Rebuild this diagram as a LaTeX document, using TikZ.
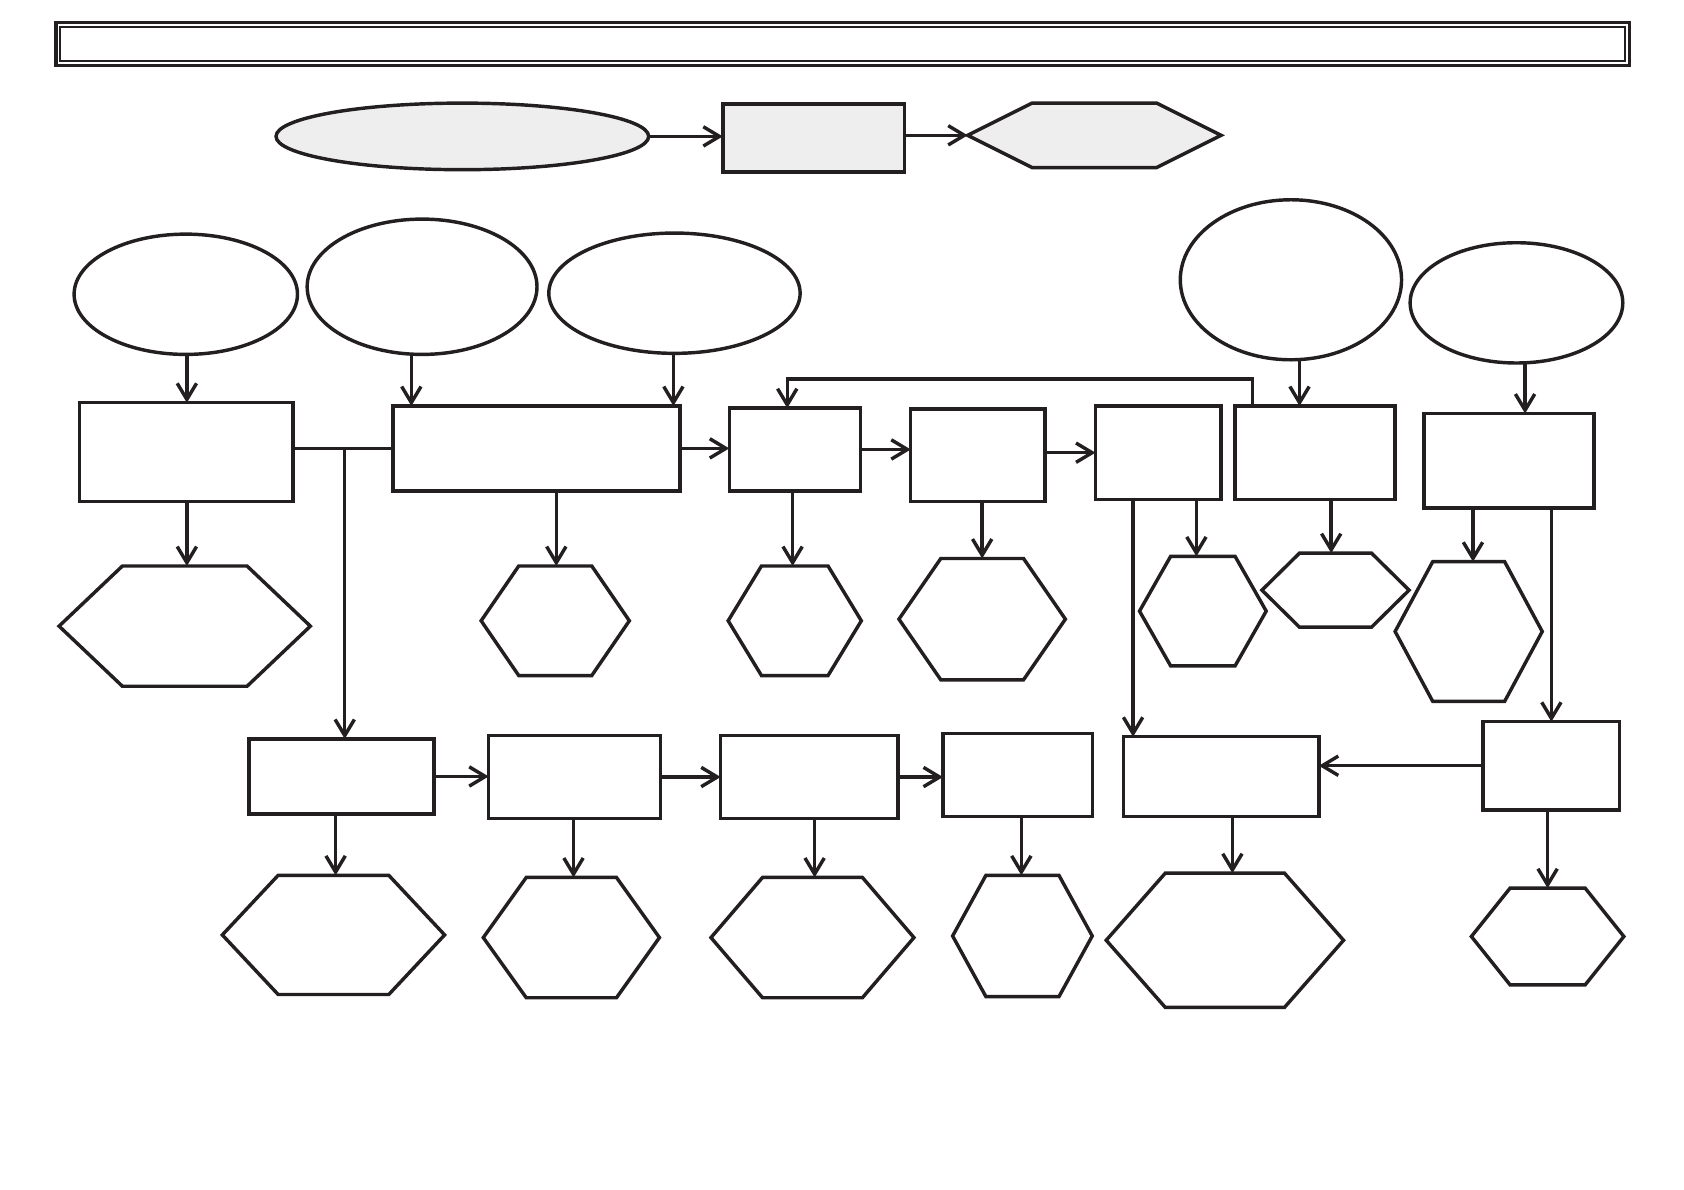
\documentclass[tikz,border=0pt]{standalone}
\usetikzlibrary{arrows.meta,shapes.geometric,calc}
\definecolor{ink}{HTML}{231F20}
\definecolor{shade}{HTML}{EFEEEE}
\tikzset{
  ln/.style={draw=ink,line width=3.2pt,line join=miter},
  rb/.style={ln,rectangle,inner sep=0pt,outer sep=0pt},
  eb/.style={ln,ellipse,inner sep=0pt,outer sep=0pt},
  hb/.style={rectangle,inner sep=0pt,outer sep=0pt,draw=none},
  arr/.style={draw=ink,line width=3.2pt,-{Straight Barb[length=15pt,width=18pt]}},
  con/.style={draw=ink,line width=3.2pt},
}
% name, cx, cy, width, height, inset, fill
\newcommand\hexa[7]{%
  \node[hb,minimum width=#4pt,minimum height=#5pt] (#1) at (#2,#3) {};
  \draw[ln,fill=#7] (#1.west) -- ([xshift=#6pt]#1.north west) -- ([xshift=-#6pt]#1.north east) -- (#1.east) -- ([xshift=-#6pt]#1.south east) -- ([xshift=#6pt]#1.south west) -- cycle;}
\newcommand\boxat[5]{% name, x1, y1, x2, y2
  \node[rb,minimum width={(#4-#2)*1pt},minimum height={(#5-#3)*1pt}] (#1) at ({(#2+#4)/2},{(#3+#5)/2}) {};}
\begin{document}
\begin{tikzpicture}[x=1pt,y=-1pt]
\useasboundingbox (0,0) rectangle (1568,1108);
% title bar
\node[rb,minimum width=1465pt,minimum height=40pt] (title) at (784.5,41) {};
\node[draw=ink,line width=1.4pt,inner sep=0pt,minimum width=1457pt,minimum height=32pt] (titlein) at (title.center) {};
% top row
\node[eb,fill=shade,minimum width=347pt,minimum height=62pt] (e0) at (430.5,127) {};
\node[rb,fill=shade,minimum width=169pt,minimum height=63pt] (r0) at (757.5,128.5) {};
\hexa{h0}{1019}{126}{236}{60}{60}{shade}
\draw[arr] (e0.east) -- (e0.east -| r0.west);
\draw[arr] (h0.west -| r0.east) -- (h0.west);
% ellipses
\node[eb,minimum width=208pt,minimum height=112pt] (e1) at (173,274) {};
\node[eb,minimum width=214pt,minimum height=126pt] (e2) at (393,267) {};
\node[eb,minimum width=234pt,minimum height=112pt] (e3) at (628,273) {};
\node[eb,minimum width=206pt,minimum height=149pt] (e4) at (1202,260.5) {};
\node[eb,minimum width=198pt,minimum height=112pt] (e5) at (1412,282) {};
% row 3 boxes
\boxat{r1}{74}{375}{273}{467}
\boxat{r2}{366}{378}{633}{457}
\boxat{r3}{679}{380}{801}{457}
\boxat{r4}{848}{381}{973}{467}
\boxat{r5}{1020}{378}{1137}{465}
\boxat{r6}{1150}{378}{1299}{465}
\boxat{r7}{1326}{385}{1484}{473}
% row 4 boxes
\boxat{r8}{232}{688}{404}{758}
\boxat{r9}{455}{685}{615}{762}
\boxat{r10}{671}{685}{836}{762}
\boxat{r11}{878}{683}{1017}{760}
\boxat{r12}{1046}{686}{1228}{760}
\boxat{r13}{1381}{672}{1508}{754}
% row 3 hexagons
\hexa{h1}{172}{583}{234}{112}{59}{white}
\hexa{h2}{517}{578}{138}{102}{35}{white}
\hexa{h3}{740}{578}{124}{102}{31}{white}
\hexa{h4}{914.5}{576.5}{155}{113}{39}{white}
\hexa{h5}{1120}{569}{118}{102}{29}{white}
\hexa{h6}{1243.5}{549.5}{137}{69}{35}{white}
\hexa{h7}{1367.5}{588}{137}{130}{35}{white}
% row 5 hexagons
\hexa{h8}{310.5}{870.5}{207}{111}{52}{white}
\hexa{h9}{532}{873}{164}{112}{40}{white}
\hexa{h10}{756.5}{873}{189}{112}{48}{white}
\hexa{h11}{952}{871.5}{130}{113}{31}{white}
\hexa{h12}{1140.5}{875.5}{221}{125}{55}{white}
\hexa{h13}{1441}{872}{142}{90}{36}{white}
% ellipse to box arrows
\draw[arr] ([xshift=1pt]e1.south) -- ([xshift=1pt]e1.south |- r1.north);
\draw[arr] ([xshift=-10pt]e2.south) -- ([xshift=-10pt]e2.south |- r2.north);
\draw[arr] ([xshift=-1pt]e3.south) -- ([xshift=-1pt]e3.south |- r2.north);
\draw[arr] ([xshift=8pt]e4.south) -- ([xshift=8pt]e4.south |- r6.north);
\draw[arr] ([xshift=8pt]e5.south) -- ([xshift=8pt]e5.south |- r7.north);
% row 3 horizontal
\draw[con] (r2.west -| r1.east) -- (r2.west);
\coordinate (j1) at (321,417.5);
\draw[arr] (j1) -- (j1 |- r8.north);
\draw[arr] (r2.east) -- (r2.east -| r3.west);
\draw[arr] (r3.east) -- (r3.east -| r4.west);
\draw[arr] (r5.west -| r4.east) -- (r5.west);
% feedback loop
\draw[arr] ([xshift=16pt]r6.north west) -- ++(0,-25) -| ([xshift=-7pt]r3.north);
% boxes to row 3 hexagons
\draw[arr] ([xshift=2pt]h1.north |- r1.south) -- ([xshift=2pt]h1.north);
\draw[arr] ([xshift=1pt]h2.north |- r2.south) -- ([xshift=1pt]h2.north);
\draw[arr] ([xshift=-2pt]h3.north |- r3.south) -- ([xshift=-2pt]h3.north);
\draw[arr] (h4.north |- r4.south) -- (h4.north);
\draw[arr] ([xshift=-6pt]h5.north |- r5.south) -- ([xshift=-6pt]h5.north);
\draw[arr] ([xshift=-4pt]h6.north |- r6.south) -- ([xshift=-4pt]h6.north);
\draw[arr] ([xshift=4pt]h7.north |- r7.south) -- ([xshift=4pt]h7.north);
% long verticals
\draw[arr] ([xshift=35pt]r5.south west) -- ([xshift=35pt]r5.south west |- r12.north);
\draw[arr] (r7.south -| r13.north) -- (r13.north);
% row 4 horizontal
\draw[arr] (r8.east) -- (r8.east -| r9.west);
\draw[arr] (r9.east) -- (r9.east -| r10.west);
\draw[arr] (r10.east) -- (r10.east -| r11.west);
\draw[arr] (r13.west) -- (r13.west -| r12.east);
% boxes to row 5 hexagons
\draw[arr] ([xshift=2pt]h8.north |- r8.south) -- ([xshift=2pt]h8.north);
\draw[arr] ([xshift=2pt]h9.north |- r9.south) -- ([xshift=2pt]h9.north);
\draw[arr] ([xshift=2pt]h10.north |- r10.south) -- ([xshift=2pt]h10.north);
\draw[arr] ([xshift=-1pt]h11.north |- r11.south) -- ([xshift=-1pt]h11.north);
\draw[arr] ([xshift=7pt]h12.north |- r12.south) -- ([xshift=7pt]h12.north);
\draw[arr] (h13.north |- r13.south) -- (h13.north);
\end{tikzpicture}
\end{document}
